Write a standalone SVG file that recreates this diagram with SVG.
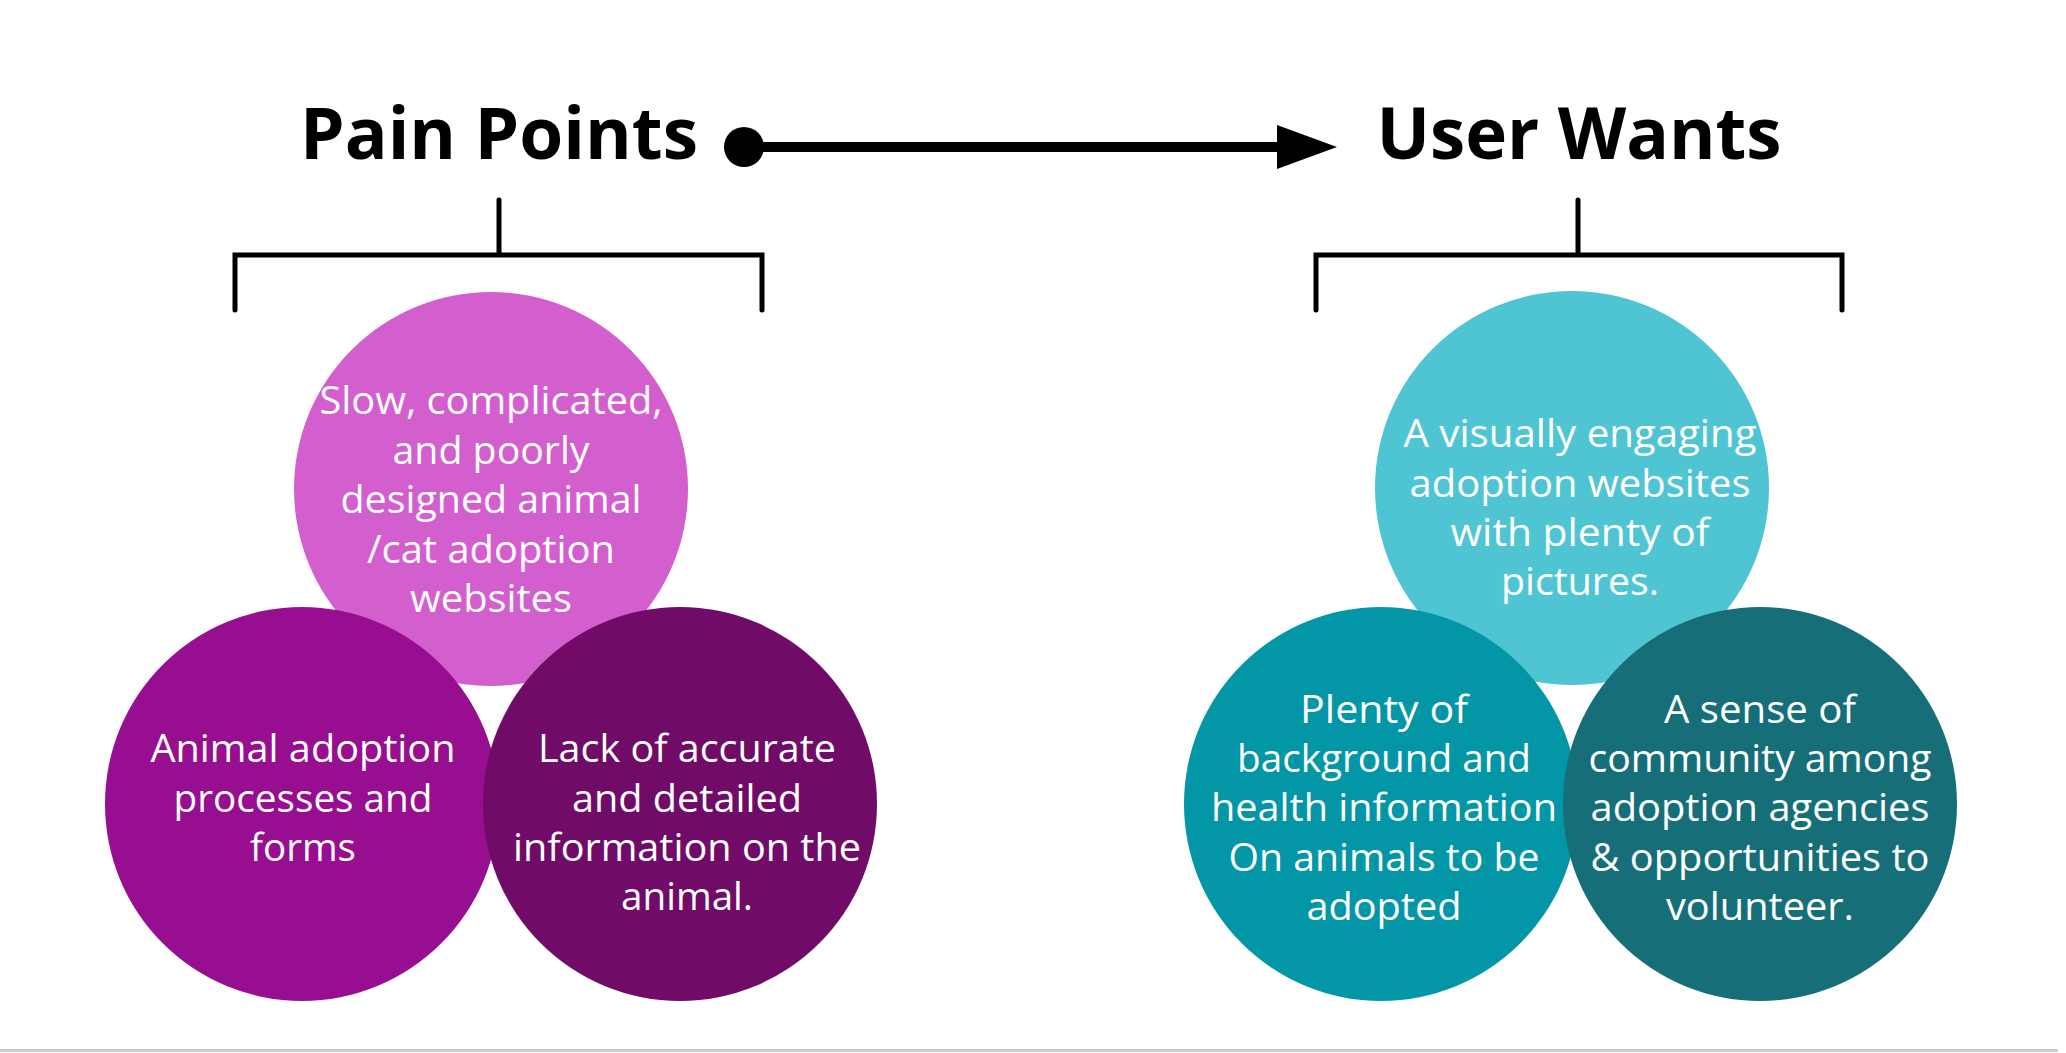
<svg xmlns="http://www.w3.org/2000/svg" width="2066" height="1053" viewBox="0 0 2066 1053">
<style>
.title{font-family:"Open Sans","Liberation Sans",sans-serif;font-weight:700;font-size:72px;fill:#000;text-anchor:middle}
.lbl{font-family:"Open Sans","Liberation Sans",sans-serif;font-size:39px;fill:#fff;text-anchor:middle}
.br{fill:none;stroke:#000;stroke-width:5;stroke-linecap:round;stroke-linejoin:miter}
</style>
<defs>
<marker id="arrowEnd" markerUnits="userSpaceOnUse" markerWidth="62" markerHeight="46" refX="0" refY="23" orient="auto">
<path d="M0,1 L60,23 L0,45 Z" fill="#000"/>
</marker>
<marker id="dotStart" markerUnits="userSpaceOnUse" markerWidth="42" markerHeight="42" refX="21" refY="21" orient="auto">
<circle cx="21" cy="21" r="20" fill="#000"/>
</marker>
</defs>
<rect width="2066" height="1053" fill="#fff"/>
<rect x="0" y="1049" width="2058" height="3" fill="#cccccc"/>

<g id="title-pain-points"><text class="title" x="499" y="159" textLength="398" lengthAdjust="spacingAndGlyphs">Pain Points</text></g>
<g id="title-user-wants"><text class="title" x="1579" y="159" textLength="405" lengthAdjust="spacingAndGlyphs">User Wants</text></g>

<g id="connectors">
<line x1="744" y1="147" x2="1277" y2="147" stroke="#000" stroke-width="10" marker-start="url(#dotStart)" marker-end="url(#arrowEnd)"/>
<path class="br" d="M499,200 V255 M235,310 V255 H762 V310"/>
<path class="br" d="M1578,200 V255 M1316,310 V255 H1842 V310"/>
</g>

<g id="pain-1">
<circle cx="491" cy="489" r="197" fill="#D35FCF"/>
<text class="lbl"><tspan x="491" y="414" textLength="343" lengthAdjust="spacingAndGlyphs">Slow, complicated,</tspan><tspan x="491" y="464" textLength="197" lengthAdjust="spacingAndGlyphs">and poorly</tspan><tspan x="491" y="513" textLength="301" lengthAdjust="spacingAndGlyphs">designed animal</tspan><tspan x="491" y="563" textLength="248" lengthAdjust="spacingAndGlyphs">/cat adoption</tspan><tspan x="491" y="612" textLength="162" lengthAdjust="spacingAndGlyphs">websites</tspan></text>
</g>
<g id="pain-2">
<circle cx="302" cy="804" r="197" fill="#970E91"/>
<text class="lbl"><tspan x="303" y="762" textLength="305" lengthAdjust="spacingAndGlyphs">Animal adoption</tspan><tspan x="303" y="812" textLength="259" lengthAdjust="spacingAndGlyphs">processes and</tspan><tspan x="303" y="861" textLength="106" lengthAdjust="spacingAndGlyphs">forms</tspan></text>
</g>
<g id="pain-3">
<circle cx="680" cy="804" r="197" fill="#700B68"/>
<text class="lbl"><tspan x="687" y="762" textLength="298" lengthAdjust="spacingAndGlyphs">Lack of accurate</tspan><tspan x="687" y="812" textLength="230" lengthAdjust="spacingAndGlyphs">and detailed</tspan><tspan x="687" y="861" textLength="348" lengthAdjust="spacingAndGlyphs">information on the</tspan><tspan x="687" y="910" textLength="132" lengthAdjust="spacingAndGlyphs">animal.</tspan></text>
</g>

<g id="want-1">
<circle cx="1572" cy="488" r="197" fill="#4FC5D4"/>
<text class="lbl"><tspan x="1580" y="447" textLength="353" lengthAdjust="spacingAndGlyphs">A visually engaging</tspan><tspan x="1580" y="497" textLength="341" lengthAdjust="spacingAndGlyphs">adoption websites</tspan><tspan x="1580" y="546" textLength="259" lengthAdjust="spacingAndGlyphs">with plenty of</tspan><tspan x="1580" y="595" textLength="158" lengthAdjust="spacingAndGlyphs">pictures.</tspan></text>
</g>
<g id="want-2">
<circle cx="1381" cy="804" r="197" fill="#0396A6"/>
<text class="lbl"><tspan x="1384" y="723" textLength="168" lengthAdjust="spacingAndGlyphs">Plenty of</tspan><tspan x="1384" y="772" textLength="294" lengthAdjust="spacingAndGlyphs">background and</tspan><tspan x="1384" y="821" textLength="346" lengthAdjust="spacingAndGlyphs">health information</tspan><tspan x="1384" y="871" textLength="311" lengthAdjust="spacingAndGlyphs">On animals to be</tspan><tspan x="1384" y="920" textLength="155" lengthAdjust="spacingAndGlyphs">adopted</tspan></text>
</g>
<g id="want-3">
<circle cx="1760" cy="804" r="197" fill="#166F78"/>
<text class="lbl"><tspan x="1760" y="723" textLength="192" lengthAdjust="spacingAndGlyphs">A sense of</tspan><tspan x="1760" y="772" textLength="343" lengthAdjust="spacingAndGlyphs">community among</tspan><tspan x="1760" y="821" textLength="339" lengthAdjust="spacingAndGlyphs">adoption agencies</tspan><tspan x="1760" y="871" textLength="339" lengthAdjust="spacingAndGlyphs">&amp; opportunities to</tspan><tspan x="1760" y="920" textLength="188" lengthAdjust="spacingAndGlyphs">volunteer.</tspan></text>
</g>
</svg>
